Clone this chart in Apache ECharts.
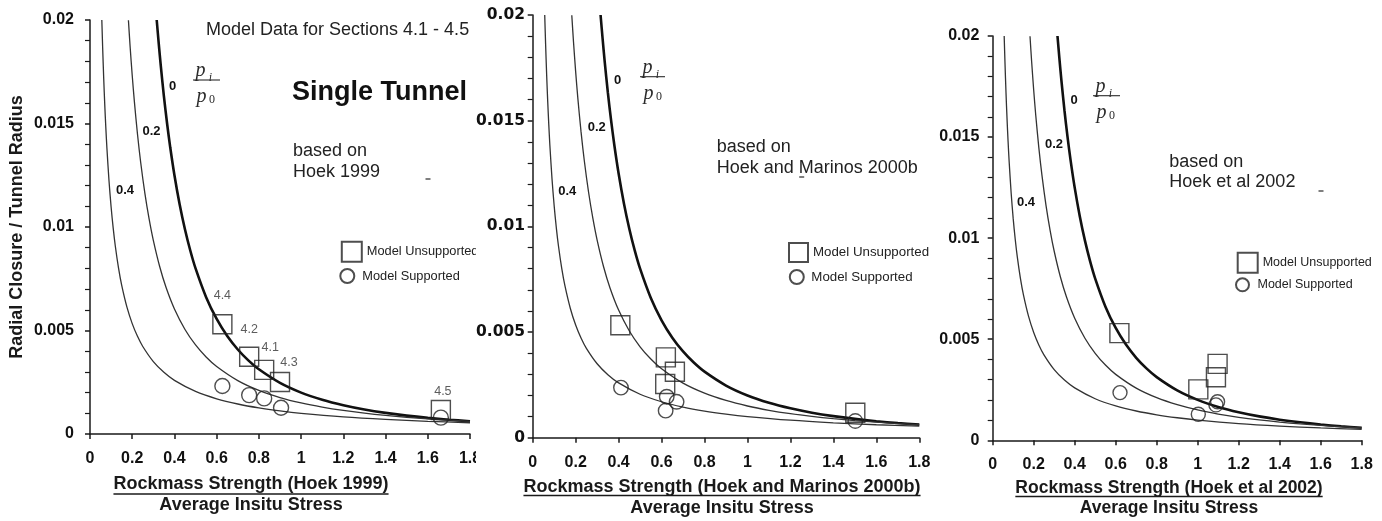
<!DOCTYPE html>
<html><head><meta charset="utf-8">
<script src="https://cdn.jsdelivr.net/npm/echarts@6/dist/echarts.min.js"></script>
<style>
html,body{margin:0;padding:0;background:#fff;width:1382px;height:521px;overflow:hidden}
.p{position:absolute;top:0;height:521px}
</style></head><body>
<div id="c1" class="p" style="left:0;width:476px"></div>
<div id="c2" class="p" style="left:476px;width:456px"></div>
<div id="c3" class="p" style="left:926px;width:456px"></div>
<script>
// ---------------- DATA ----------------
const xTickLabels = ['0','0.2','0.4','0.6','0.8','1','1.2','1.4','1.6','1.8'];
const yTickLabels = ['0','0.005','0.01','0.015','0.02'];
const curveRatioLabels = ['0','0.2','0.4']; // p_i / p_0
// curve p_i/p_0 = 0
const curve0X = [0.316,0.325,0.335,0.35,0.365,0.38,0.4,0.425,0.45,0.475,0.5,0.55,0.6,0.65,0.7,0.75,0.8,0.9,1.0,1.1,1.2,1.3,1.4,1.5,1.6,1.7,1.8];
const curve0Y = [0.02000,0.018935,0.017821,0.016327,0.015012,0.013850,0.012500,0.011073,0.009877,0.008864,0.008000,0.006612,0.005556,0.004734,0.004082,0.003556,0.003125,0.002469,0.002000,0.001653,0.001389,0.001183,0.001020,0.000889,0.000781,0.000692,0.000617];
// curve p_i/p_0 = 0.2
const curve02X = [0.182,0.19,0.2,0.21,0.225,0.24,0.26,0.28,0.3,0.33,0.36,0.4,0.45,0.5,0.55,0.6,0.7,0.8,0.9,1.0,1.1,1.2,1.3,1.4,1.5,1.6,1.7,1.8];
const curve02Y = [0.019988,0.018723,0.017319,0.016080,0.014481,0.013129,0.011625,0.010387,0.009352,0.008090,0.007087,0.006039,0.005049,0.004302,0.003722,0.003261,0.002580,0.002106,0.001761,0.001500,0.001298,0.001137,0.001007,0.000899,0.000810,0.000734,0.000670,0.000614];
// curve p_i/p_0 = 0.4
const curve04X = [0.056,0.06,0.065,0.07,0.075,0.08,0.09,0.1,0.11,0.12,0.135,0.15,0.175,0.2,0.225,0.25,0.3,0.35,0.4,0.5,0.6,0.7,0.8,0.9,1.0,1.2,1.4,1.6,1.8];
const curve04Y = [0.020000,0.018652,0.017162,0.015889,0.014789,0.013829,0.012236,0.010965,0.009931,0.009071,0.008025,0.007192,0.006127,0.005333,0.004718,0.004228,0.003498,0.002980,0.002593,0.002056,0.001701,0.001449,0.001261,0.001116,0.001000,0.000827,0.000705,0.000613,0.000543];

// Panel 1 (Hoek 1999)
const p1Sections = ['4.4','4.2','4.1','4.3','4.5'];
const p1UnsupX = [0.627,0.754,0.825,0.900,1.662];
const p1UnsupY = [0.00530,0.00373,0.00310,0.00251,0.00116];
const p1SupX = [0.627,0.754,0.825,0.905,1.662];
const p1SupY = [0.00232,0.00188,0.00172,0.00127,0.00079];
// Panel 2 (Hoek and Marinos 2000b)
const p2UnsupX = [0.408,0.620,0.662,0.617,1.502];
const p2UnsupY = [0.00532,0.00380,0.00312,0.00254,0.00118];
const p2SupX = [0.411,0.624,0.670,0.619,1.502];
const p2SupY = [0.00237,0.00194,0.00170,0.00128,0.00079];
// Panel 3 (Hoek et al 2002)
const p3UnsupX = [0.618,1.097,1.089,1.003];
const p3UnsupY = [0.00530,0.00378,0.00312,0.00252];
const p3SupX = [0.621,1.097,1.089,1.003];
const p3SupY = [0.00236,0.00191,0.00175,0.00129];

// ---------------- LAYOUT / STYLE ----------------
const FONT = '"Liberation Sans", Arial, sans-serif';
const DJ = '"DejaVu Sans", sans-serif';
const SERIF = '"Liberation Serif", "DejaVu Serif", serif';
const INK = '#1a1a1a';
const p1LabelOffsets = [[0,-29],[0,-27],[6,-22],[9,-19],[2,-18]];

function zip(xs, ys){ return xs.map((x,i)=>[x, ys[i]]); }

function measure(text, font){
  const c = document.createElement('canvas').getContext('2d');
  c.font = font; return c.measureText(text).width;
}
function txt(x, y, text, font, align, color){
  return {type:'text', x:x, y:y, silent:true,
    style:{text:text, font:font, fill:color||'#222', align:align||'left', verticalAlign:'middle'}};
}
function fraction(bx, by, w){
  const f = 'italic 20px ' + SERIF, s = '12px ' + SERIF, si = 'italic 12px ' + SERIF;
  return [
    txt(bx+7.5, by-9, 'p', f, 'center', '#2a2a2a'),
    txt(bx+17.5, by-2, 'i', si, 'center', '#2a2a2a'),
    {type:'line', silent:true, shape:{x1:bx, y1:by, x2:bx+w, y2:by}, style:{stroke:'#2a2a2a', lineWidth:1.1}},
    txt(bx+8.5, by+17, 'p', f, 'center', '#2a2a2a'),
    txt(bx+19, by+20, '0', s, 'center', '#2a2a2a')
  ];
}
function xTitle(cx, y1, uy, y2, l1, l2, size){
  const f = 'bold ' + size + 'px ' + FONT;
  const w = measure(l1, f);
  return [
    txt(cx, y1, l1, f, 'center', INK),
    {type:'line', silent:true, shape:{x1:cx-w/2, y1:uy, x2:cx+w/2, y2:uy}, style:{stroke:INK, lineWidth:1.5}},
    txt(cx, y2, l2, f, 'center', INK)
  ];
}
function dash(x, y){
  return {type:'rect', silent:true, shape:{x:x-2.5, y:y-0.75, width:5, height:1.5}, style:{fill:'#555'}};
}

function buildOption(c){
  const axisLine = {onZero:false, lineStyle:{color:INK, width:1.5}};
  const unsupData = c.unsup.map((p,i)=>{
    const d = {value:p};
    if (c.sections) {
      d.name = c.sections[i];
      d.label = {show:true, position:'inside', offset:p1LabelOffsets[i], formatter:'{b}',
        color:'#333', fontSize:12.5, fontFamily:FONT};
    }
    return d;
  });
  const curve = (name, xs, ys, color, width) => ({type:'line', name:name, data:zip(xs, ys), smooth:0.3,
    showSymbol:false, symbol:'none', lineStyle:{color:color, width:width}, silent:true, z:3});
  return {
    animation:false,
    grid:Object.assign({outerBoundsMode:'none', containLabel:false}, c.grid),
    xAxis:{type:'value', min:0, max:1.8, interval:0.2, splitLine:{show:false},
      axisLine:axisLine,
      axisTick:{show:true, length:5, lineStyle:{color:INK, width:1.5}},
      axisLabel:{margin:c.xMargin, color:'#111', fontWeight:'bold', fontSize:16, fontFamily:FONT,
        showMinLabel:true, showMaxLabel:true, formatter:(v,i)=>xTickLabels[i]}},
    yAxis:{type:'value', min:0, max:0.02, interval:0.005, splitLine:{show:false},
      name:c.yName||'', nameLocation:'middle', nameGap:64, nameRotate:90, nameMoveOverlap:false,
      nameTextStyle:{color:INK, fontWeight:'bold', fontSize:18, fontFamily:FONT},
      axisLine:Object.assign({show:true}, axisLine),
      axisTick:{show:true, length:5, lineStyle:{color:INK, width:1.5}},
      minorTick:{show:true, splitNumber:5, length:5, lineStyle:{color:INK, width:1.2}},
      axisLabel:{margin:c.yMargin, color:'#111', fontWeight:'bold', fontSize:c.yFontSize, fontFamily:c.yFont,
        showMinLabel:true, showMaxLabel:true, formatter:(v,i)=>yTickLabels[i]}},
    legend:[
      {data:['Model Unsupported'], left:c.leg1[0], top:c.leg1[1], itemWidth:c.leg1[2], itemHeight:c.leg1[2],
        selectedMode:false, padding:0, textStyle:{color:'#222', fontSize:c.legFont, fontFamily:FONT}},
      {data:['Model Supported'], left:c.leg2[0], top:c.leg2[1], itemWidth:c.leg1[2], itemHeight:c.leg2[2],
        selectedMode:false, padding:0, textStyle:{color:'#222', fontSize:c.legFont, fontFamily:FONT}}
    ],
    series:[
      curve('p0', curve0X, curve0Y, '#111', 2.6),
      curve('p02', curve02X, curve02Y, '#333', 1.3),
      curve('p04', curve04X, curve04Y, '#333', 1.3),
      {type:'scatter', name:'Model Unsupported', symbol:'rect', symbolSize:c.sq, data:unsupData,
        itemStyle:{color:'rgba(255,255,255,0)', borderColor:'#222', borderWidth:1.4}, z:4},
      {type:'scatter', name:'Model Supported', symbol:'circle', symbolSize:c.ci, data:c.sup,
        itemStyle:{color:'rgba(255,255,255,0)', borderColor:'#222', borderWidth:1.4}, z:4}
    ],
    graphic:{elements:c.graphics}
  };
}

// ---------------- PANELS ----------------
const cfg1 = {
  grid:{left:90, right:6, top:20, bottom:87},
  xMargin:17, yMargin:16, yFontSize:16, yFont:FONT, yName:'Radial Closure / Tunnel Radius',
  sq:19, ci:15, legFont:12.8,
  leg1:[340.8, 240.8, 20], leg2:[339.3, 268, 14],
  sections:p1Sections,
  unsup:zip(p1UnsupX, p1UnsupY), sup:zip(p1SupX, p1SupY),
  graphics:[].concat(
    [txt(206, 30, 'Model Data for Sections 4.1 - 4.5', '18px '+FONT, 'left', '#222'),
     txt(292, 93, 'Single Tunnel', 'bold 27px '+FONT, 'left', '#111'),
     txt(293, 151, 'based on', '18px '+FONT, 'left', '#222'),
     txt(293, 172, 'Hoek 1999', '18px '+FONT, 'left', '#222'),
     txt(172.5, 86, curveRatioLabels[0], 'bold 13px '+FONT, 'center', '#111'),
     txt(151.5, 131, curveRatioLabels[1], 'bold 13px '+FONT, 'center', '#111'),
     txt(125, 190.5, curveRatioLabels[2], 'bold 13px '+FONT, 'center', '#111'),
     dash(428, 179)],
    fraction(193, 80, 27),
    xTitle(251, 484, 494, 505, 'Rockmass Strength (Hoek 1999)', 'Average Insitu Stress', 18)
  )
};
const cfg2 = {
  grid:{left:56.7, right:12.7, top:15, bottom:83.3},
  xMargin:17, yMargin:7.7, yFontSize:15.5, yFont:DJ,
  sq:19, ci:14.5, legFont:13.3,
  leg1:[312, 242, 19], leg2:[312.8, 269, 14],
  unsup:zip(p2UnsupX, p2UnsupY), sup:zip(p2SupX, p2SupY),
  graphics:[].concat(
    [txt(240.7, 147, 'based on', '18px '+FONT, 'left', '#222'),
     txt(240.7, 168.5, 'Hoek and Marinos 2000b', '18px '+FONT, 'left', '#222'),
     txt(141.7, 80.7, curveRatioLabels[0], 'bold 13px '+FONT, 'center', '#111'),
     txt(120.7, 127.7, curveRatioLabels[1], 'bold 13px '+FONT, 'center', '#111'),
     txt(91.3, 191.7, curveRatioLabels[2], 'bold 13px '+FONT, 'center', '#111'),
     dash(325.7, 177)],
    fraction(164, 76.7, 25),
    xTitle(246, 487, 495.5, 508, 'Rockmass Strength (Hoek and Marinos 2000b)', 'Average Insitu Stress', 18)
  )
};
const cfg3 = {
  grid:{left:66.7, right:20.3, top:36, bottom:80.7},
  xMargin:16, yMargin:13.4, yFontSize:16, yFont:FONT,
  sq:19, ci:14, legFont:12.5,
  leg1:[310.7, 251.7, 20], leg2:[309, 277.3, 13],
  unsup:zip(p3UnsupX, p3UnsupY), sup:zip(p3SupX, p3SupY),
  graphics:[].concat(
    [txt(243.3, 162.3, 'based on', '18px '+FONT, 'left', '#222'),
     txt(243.3, 182.3, 'Hoek et al 2002', '18px '+FONT, 'left', '#222'),
     txt(148, 100.7, curveRatioLabels[0], 'bold 13px '+FONT, 'center', '#111'),
     txt(128, 144.3, curveRatioLabels[1], 'bold 13px '+FONT, 'center', '#111'),
     txt(100, 202.3, curveRatioLabels[2], 'bold 13px '+FONT, 'center', '#111'),
     dash(395, 191)],
    fraction(167, 95.7, 27),
    xTitle(243, 488, 496.5, 508, 'Rockmass Strength (Hoek et al 2002)', 'Average Insitu Stress', 17.5)
  )
};

[['c1',cfg1],['c2',cfg2],['c3',cfg3]].forEach(([id,c])=>{
  const ch = echarts.init(document.getElementById(id), null, {renderer:'canvas'});
  ch.setOption(buildOption(c));
});
</script>
</body></html>
